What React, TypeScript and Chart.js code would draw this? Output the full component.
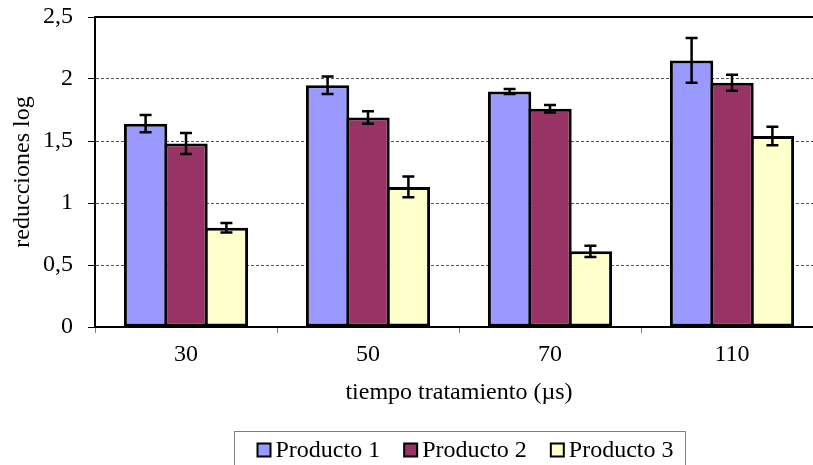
import React, { useEffect, useRef } from "react";
import { Chart, registerables } from "chart.js";

Chart.register(...registerables);

const categories = ["30", "50", "70", "110"];
const seriesNames = ["Producto 1", "Producto 2", "Producto 3"];
const producto1 = [1.64, 1.95, 1.9, 2.15];
const producto2 = [1.48, 1.69, 1.76, 1.97];
const producto3 = [0.8, 1.13, 0.61, 1.54];
const error1 = [0.07, 0.07, 0.02, 0.18];
const error2 = [0.085, 0.05, 0.03, 0.065];
const error3 = [0.038, 0.083, 0.045, 0.075];
const yTickValues = [0, 0.5, 1, 1.5, 2, 2.5];
const yTickLabels = ["0", "0,5", "1", "1,5", "2", "2,5"];
const xTitle = "tiempo tratamiento (µs)";
const yTitle = "reducciones log";
const colors = ["#9999FF", "#993366", "#FFFFCC"];

const FONT = '"Liberation Serif", "Times New Roman", serif';
const FS = 24;

const errorBarPlugin = {
  id: "errorBars",
  afterDatasetsDraw(chart: any) {
    const ctx = chart.ctx;
    const y = chart.scales.y;
    chart.data.datasets.forEach((ds: any, i: number) => {
      const meta = chart.getDatasetMeta(i);
      meta.data.forEach((bar: any, j: number) => {
        const v = ds.data[j];
        const e = ds.errors[j];
        const yt = y.getPixelForValue(v + e);
        const yb = y.getPixelForValue(v - e);
        ctx.save();
        ctx.strokeStyle = "#000";
        ctx.lineWidth = 2.5;
        ctx.beginPath();
        ctx.moveTo(bar.x, yt);
        ctx.lineTo(bar.x, yb);
        ctx.moveTo(bar.x - 6, yt);
        ctx.lineTo(bar.x + 6, yt);
        ctx.moveTo(bar.x - 6, yb);
        ctx.lineTo(bar.x + 6, yb);
        ctx.stroke();
        ctx.restore();
      });
    });
  },
};

const framePlugin = {
  id: "frame",
  afterDraw(chart: any) {
    const { ctx, chartArea } = chart;
    ctx.save();
    ctx.strokeStyle = "#000";
    ctx.lineWidth = 2;
    ctx.beginPath();
    ctx.moveTo(chartArea.left - 1, chartArea.top);
    ctx.lineTo(chartArea.right, chartArea.top);
    ctx.stroke();
    ctx.restore();
  },
};

const legendPlugin = {
  id: "boxLegend",
  afterDraw(chart: any) {
    const { ctx, chartArea } = chart;
    ctx.save();
    ctx.font = `${FS}px ${FONT}`;
    const sq = 13;
    const gapText = 5;
    const gapItem = 24;
    const items = chart.data.datasets.map((ds: any) => ({
      label: ds.label,
      color: ds.backgroundColor,
      w: sq + gapText + ctx.measureText(ds.label).width,
    }));
    const total =
      items.reduce((s: number, it: any) => s + it.w, 0) + gapItem * (items.length - 1);
    const padL = 23;
    const padR = 12;
    const boxW = total + padL + padR;
    const cx = (chartArea.left + chartArea.right) / 2;
    const boxLeft = Math.round(cx - boxW / 2) + 0.5;
    const boxTop = 431.5;
    ctx.strokeStyle = "#808080";
    ctx.lineWidth = 1;
    ctx.strokeRect(boxLeft, boxTop, boxW, 60);
    let x = boxLeft + padL;
    const midY = 450;
    items.forEach((it: any) => {
      ctx.fillStyle = it.color;
      ctx.fillRect(x, midY - sq / 2, sq, sq);
      ctx.strokeStyle = "#000";
      ctx.lineWidth = 2;
      ctx.strokeRect(x, midY - sq / 2, sq, sq);
      ctx.fillStyle = "#000";
      ctx.textBaseline = "middle";
      ctx.textAlign = "left";
      ctx.fillText(it.label, x + sq + gapText, midY + 1);
      x += it.w + gapItem;
    });
    ctx.restore();
  },
};

export default function App() {
  const ref = useRef<HTMLCanvasElement | null>(null);

  useEffect(() => {
    if (!ref.current) return;
    Chart.defaults.color = "#000";
    Chart.defaults.font.family = FONT;
    Chart.defaults.font.size = FS;
    const values = [producto1, producto2, producto3];
    const errors = [error1, error2, error3];
    const chart = new Chart(ref.current, {
      type: "bar",
      data: {
        labels: categories,
        datasets: seriesNames.map((name, i) => ({
          label: name,
          data: values[i],
          errors: errors[i],
          backgroundColor: colors[i],
          borderColor: "#000",
          borderWidth: 3,
          borderSkipped: false,
          categoryPercentage: 0.666,
          barPercentage: 1.074,
        })) as any,
      },
      options: {
        animation: false,
        responsive: false,
        events: [],
        layout: { padding: { left: 0, top: 17, right: 17, bottom: 58 } },
        plugins: {
          legend: { display: false },
          tooltip: { enabled: false },
        },
        scales: {
          x: {
            grid: {
              offset: true,
              drawOnChartArea: false,
              tickLength: 6,
              tickColor: "#808080",
              tickWidth: 1,
            },
            border: { color: "#000", width: 2 },
            ticks: { padding: 7, font: { size: FS, family: FONT }, color: "#000" },
            title: {
              display: true,
              text: xTitle,
              font: { size: FS, family: FONT },
              color: "#000",
              padding: { top: 0, bottom: 0 },
            },
            afterFit(scale: any) {
              scale.height = 80;
            },
          },
          y: {
            min: 0,
            max: 2.5,
            ticks: {
              stepSize: 0.5,
              padding: 15,
              font: { size: FS, family: FONT },
              color: "#000",
              callback: (v: any) => {
                const idx = yTickValues.indexOf(Number(v));
                return idx >= 0 ? yTickLabels[idx] : String(v);
              },
            },
            grid: {
              color: (c: any) =>
                c.tick && (c.tick.value === 0 || c.tick.value === 2.5)
                  ? "rgba(0,0,0,0)"
                  : "#555",
              lineWidth: 1,
              tickLength: 7,
              tickColor: "#000",
              tickWidth: 1,
              tickBorderDash: [],
            },
            border: { color: "#000", width: 2, dash: [3, 2] },
            title: {
              display: true,
              text: yTitle,
              font: { size: FS, family: FONT },
              color: "#000",
              padding: { top: 8, bottom: 0 },
            },
            afterFit(scale: any) {
              scale.width = 95;
              scale.paddingTop = 0;
              scale.paddingBottom = 0;
            },
          },
        },
      } as any,
      plugins: [errorBarPlugin, framePlugin, legendPlugin],
    });
    return () => chart.destroy();
  }, []);

  return (
    <div
      style={{
        position: "fixed",
        left: 0,
        top: 0,
        width: 813,
        height: 465,
        overflow: "hidden",
        background: "#fff",
      }}
    >
      <canvas ref={ref} width={840} height={465} style={{ width: 840, height: 465, display: "block" }} />
    </div>
  );
}
